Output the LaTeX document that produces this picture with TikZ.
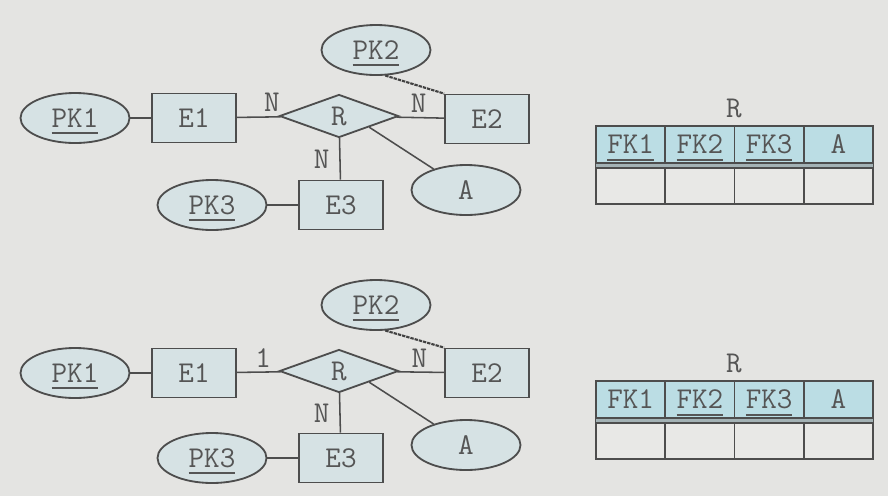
\documentclass[tikz,border=0pt]{standalone}
\usepackage{fontspec}
\usepackage{tikz}
\usetikzlibrary{
positioning,
shapes.geometric
}

\definecolor{erbg}{HTML}{E4E4E2}
\definecolor{erfill}{HTML}{D6E2E4}
\definecolor{erhead}{HTML}{BBDDE4}
\definecolor{erbody}{HTML}{E8E8E6}
\definecolor{erband}{HTML}{A3B2B5}
\definecolor{erline}{HTML}{4D4D4D}
\definecolor{ertext}{HTML}{555555}

% thick key underline that does not change the box height
\newcommand{\keyul}[1]{\setbox0\hbox{#1}\rlap{\smash{\rule[-5pt]{\wd0}{1.5pt}}}\box0}

\begin{document}
\begin{tikzpicture}[
  x=0.025cm, y=-0.025cm,
  every node/.style={font=\ttfamily\fontsize{21.5}{24}\selectfont, text=ertext},
  entity/.style={draw=erline, fill=erfill, line width=1.3pt,
                 minimum width=2.1cm, minimum height=1.225cm},
  attr/.style={ellipse, draw=erline, fill=erfill, line width=1.3pt,
               minimum width=2.725cm, minimum height=1.25cm, inner sep=0pt},
  rel/.style={diamond, draw=erline, fill=erfill, line width=1.3pt,
              minimum width=2.975cm, minimum height=1.075cm, inner sep=0pt},
  link/.style={draw=erline, line width=1.1pt},
  keylink/.style={draw=erline!85!black, line width=1.5pt, dash pattern=on 2.4pt off 0.7pt},
  card/.style={inner sep=3pt},
  head/.style={draw=erline, fill=erhead, line width=1.1pt, inner sep=0pt,
               minimum width=1.73cm, minimum height=0.925cm},
  cell/.style={draw=erline, fill=erbody, line width=1.1pt, inner sep=0pt,
               minimum width=1.73cm, minimum height=0.9cm}
]
\fill[erbg] (0,0) rectangle (888,496);
\useasboundingbox (0,0) rectangle (888,496);

%% Upper diagram: N:N:N
\node[attr] (pk1a) at (75,118) {\keyul{PK1}};
\node[entity] (e1a) at (194,118) {E1};
\node[rel] (ra) at (339,116) {R};
\node[entity] (e2a) at (487,119) {E2};
\node[attr] (pk2a) at (376,50) {\keyul{PK2}};
\node[entity] (e3a) at (341,205) {E3};
\node[attr] (pk3a) at (212,205) {\keyul{PK3}};
\node[attr] (aa) at (466,190) {A};

\draw[link] (pk1a) -- (e1a);
\draw[link] (e1a) -- node[card, pos=0.8, above] {N} (ra);
\draw[link] (ra) -- node[card, pos=0.47, above] {N} (e2a);
\draw[link] (ra) -- node[card, left=4pt] {N} (e3a);
\draw[link] (pk3a) -- (e3a);
\draw[link] (ra.south east) -- (aa);
\draw[keylink] (pk2a.290) -- (e2a.north west);

%% Upper table
\node (rta) at (734,108) {R};
\node[head] (h1a) at (630.6,144.5) {\keyul{FK1}};
\node[head] (h2a) at (699.9,144.5) {\keyul{FK2}};
\node[head] (h3a) at (769.1,144.5) {\keyul{FK3}};
\node[head] (h4a) at (838.4,144.5) {A};
\node[cell] (b1a) at (630.6,186) {};
\node[cell] (b2a) at (699.9,186) {};
\node[cell] (b3a) at (769.1,186) {};
\node[cell] (b4a) at (838.4,186) {};
\draw[fill=erband, draw=erline, line width=1pt] (h1a.south west) rectangle (b4a.north east);

%% Lower diagram: 1:N:N
\node[attr] (pk1b) at (75,373) {\keyul{PK1}};
\node[entity] (e1b) at (194,373) {E1};
\node[rel] (rb) at (339,371) {R};
\node[entity] (e2b) at (487,373) {E2};
\node[attr] (pk2b) at (376,305) {\keyul{PK2}};
\node[entity] (e3b) at (341,458) {E3};
\node[attr] (pk3b) at (212,458) {\keyul{PK3}};
\node[attr] (ab) at (466,445) {A};

\draw[link] (pk1b) -- (e1b);
\draw[link] (e1b) -- node[card, pos=0.6, above] {1} (rb);
\draw[link] (rb) -- node[card, pos=0.47, above] {N} (e2b);
\draw[link] (rb) -- node[card, left=4pt] {N} (e3b);
\draw[link] (pk3b) -- (e3b);
\draw[link] (rb.south east) -- (ab);
\draw[keylink] (pk2b.290) -- (e2b.north west);

%% Lower table
\node (rtb) at (734,363) {R};
\node[head] (h1b) at (630.6,399.5) {FK1};
\node[head] (h2b) at (699.9,399.5) {\keyul{FK2}};
\node[head] (h3b) at (769.1,399.5) {\keyul{FK3}};
\node[head] (h4b) at (838.4,399.5) {A};
\node[cell] (b1b) at (630.6,441) {};
\node[cell] (b2b) at (699.9,441) {};
\node[cell] (b3b) at (769.1,441) {};
\node[cell] (b4b) at (838.4,441) {};
\draw[fill=erband, draw=erline, line width=1pt] (h1b.south west) rectangle (b4b.north east);

\end{tikzpicture}
\end{document}
